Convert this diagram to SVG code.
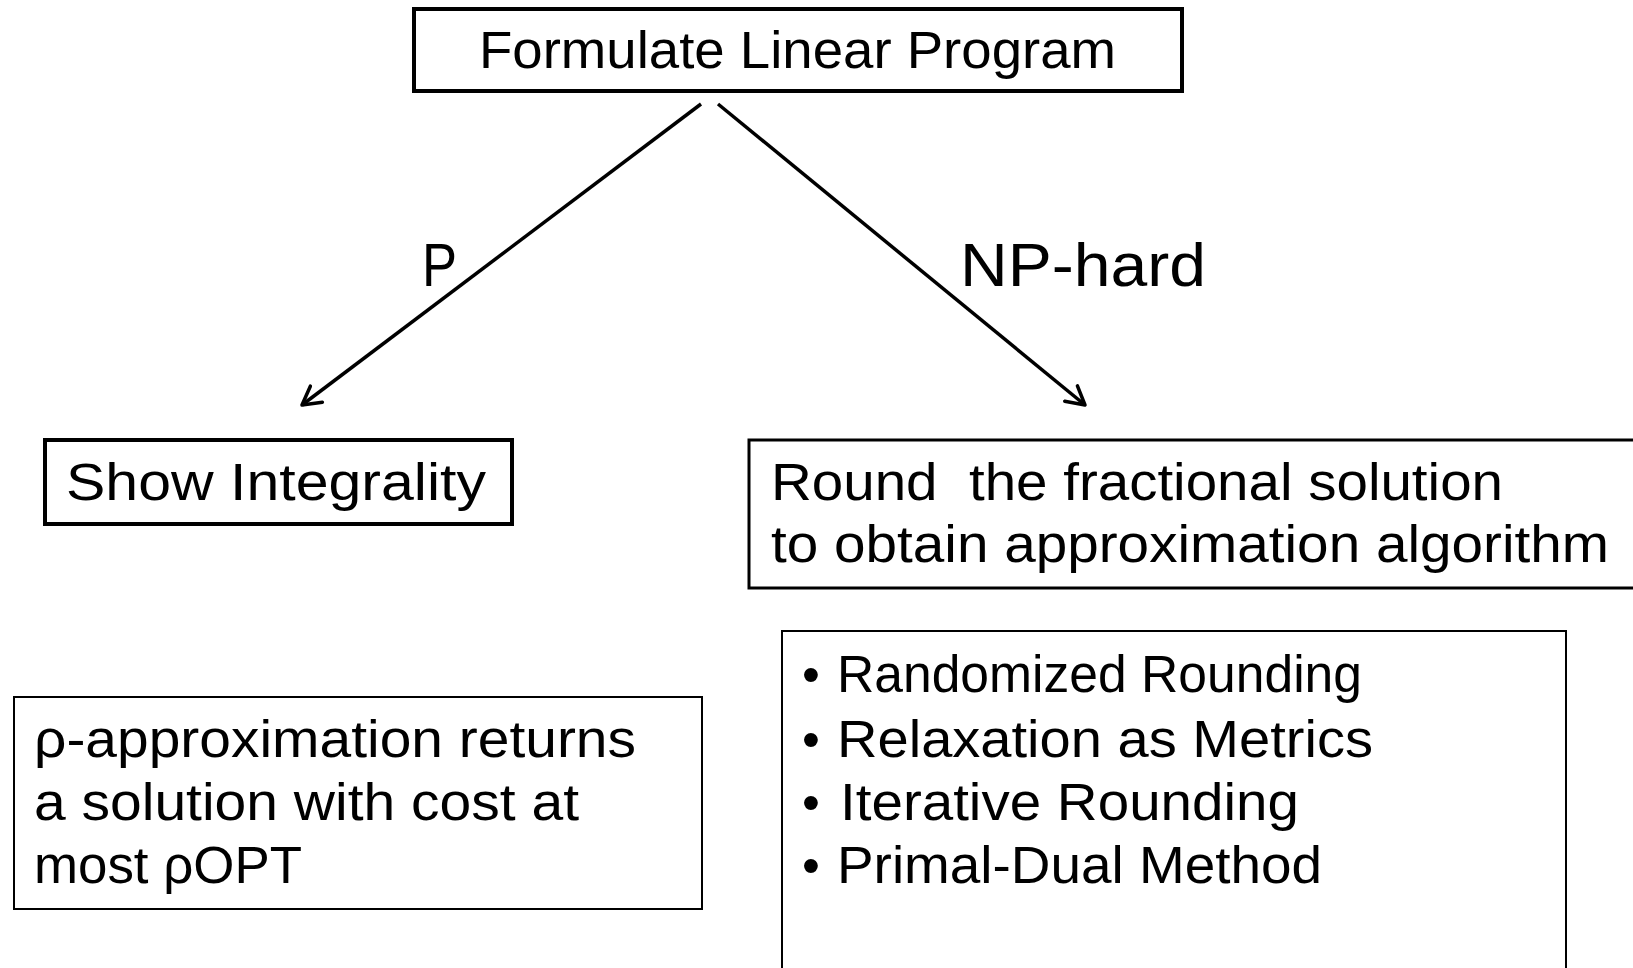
<svg xmlns="http://www.w3.org/2000/svg" width="1633" height="968" viewBox="0 0 1633 968">
<style>
  .t { font-family: "Liberation Sans Narrow", "Liberation Sans", Arial, sans-serif; font-size: 51px; fill: #000; }
  .big { font-size: 62px; }
  .box { fill: #fff; stroke: #000; }
  .thick { stroke-width: 4; }
  .thin { stroke-width: 2; }
  .conn { stroke: #000; stroke-width: 3.5; fill: none; }
</style>
<defs>
  <marker id="arr" markerUnits="userSpaceOnUse" markerWidth="30" markerHeight="30" refX="20" refY="12" orient="auto">
    <path d="M2,2 L20,12 L2,22" fill="none" stroke="#000" stroke-width="3.5" stroke-linecap="round" stroke-linejoin="round"/>
  </marker>
</defs>
<rect width="1633" height="968" fill="#fff"/>

<g id="connectors">
  <line class="conn" x1="701" y1="104" x2="302" y2="405" marker-end="url(#arr)"/>
  <line class="conn" x1="718" y1="104" x2="1085" y2="405" marker-end="url(#arr)"/>
  <text class="t big" x="422" y="286" textLength="35" lengthAdjust="spacingAndGlyphs">P</text>
  <text class="t big" x="960" y="286" textLength="246" lengthAdjust="spacingAndGlyphs">NP-hard</text>
</g>

<g id="formulate">
  <rect class="box thick" x="414" y="9" width="768" height="82"/>
  <text class="t" x="479" y="68" textLength="637" lengthAdjust="spacingAndGlyphs">Formulate Linear Program</text>
</g>

<g id="integrality">
  <rect class="box thick" x="45" y="440" width="467" height="84"/>
  <text class="t" x="66" y="500" textLength="420" lengthAdjust="spacingAndGlyphs">Show Integrality</text>
</g>

<g id="round">
  <rect class="box" stroke-width="3" x="749" y="440" width="920" height="148"/>
  <text class="t" x="771" y="500" textLength="732" lengthAdjust="spacingAndGlyphs" xml:space="preserve">Round  the fractional solution</text>
  <text class="t" x="771" y="562" textLength="838" lengthAdjust="spacingAndGlyphs">to obtain approximation algorithm</text>
</g>

<g id="approx">
  <rect class="box thin" x="14" y="697" width="688" height="212"/>
  <text class="t" x="34" y="757" textLength="602" lengthAdjust="spacingAndGlyphs">ρ-approximation returns</text>
  <text class="t" x="34" y="820" textLength="545" lengthAdjust="spacingAndGlyphs">a solution with cost at</text>
  <text class="t" x="34" y="883" textLength="268" lengthAdjust="spacingAndGlyphs">most ρOPT</text>
</g>

<g id="methods">
  <rect class="box thin" x="782" y="631" width="784" height="360"/>
  <text class="t" x="802" y="692">•</text>
  <text class="t" x="837" y="692" textLength="525" lengthAdjust="spacingAndGlyphs">Randomized Rounding</text>
  <text class="t" x="802" y="757">•</text>
  <text class="t" x="837" y="757" textLength="536" lengthAdjust="spacingAndGlyphs">Relaxation as Metrics</text>
  <text class="t" x="802" y="820">•</text>
  <text class="t" x="840" y="820" textLength="459" lengthAdjust="spacingAndGlyphs">Iterative Rounding</text>
  <text class="t" x="802" y="883">•</text>
  <text class="t" x="837" y="883" textLength="485" lengthAdjust="spacingAndGlyphs">Primal-Dual Method</text>
</g>
</svg>
